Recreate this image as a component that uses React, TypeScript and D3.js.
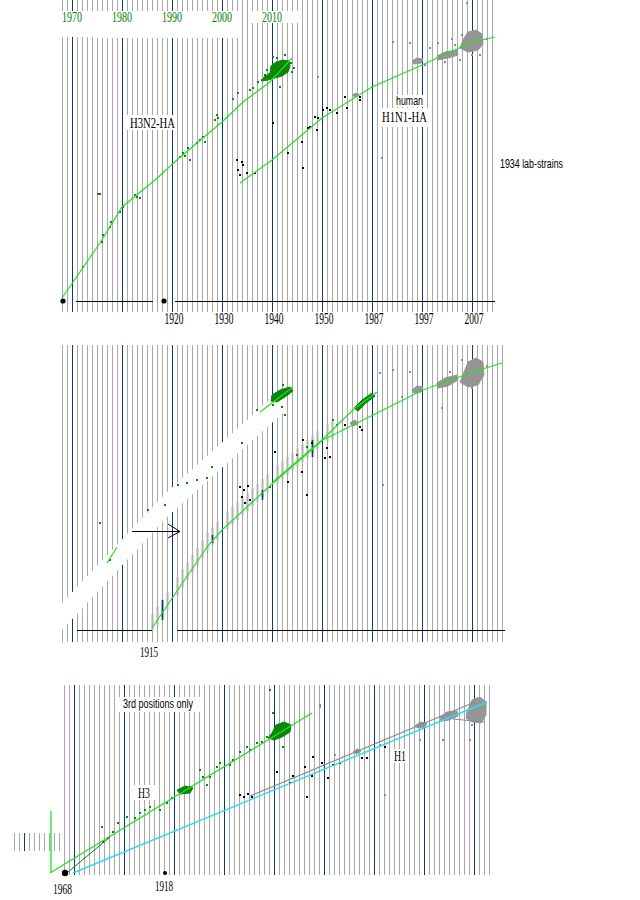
import React from "react";
import * as d3 from "d3";

type P = [number, number];

// ---------- axis labels ----------
const topDecades = [1970, 1980, 1990, 2000, 2010];
const bottomTickPos = [1990, 2000, 2010, 2020, 2030, 2040, 2050];
const bottomTickLabels = ["1920", "1930", "1940", "1950", "1987", "1997", "2007"];

// ---------- panel 1 (grid years, distance x1000) ----------
const p1H3Line: P[] = [[1968, 3], [1975.6, 58], [1980, 94], [1986.6, 121], [1991.2, 142], [2000, 179], [2004.2, 199], [2009.6, 219], [2014, 243]];
const p1H1Line: P[] = [[2003.6, 118], [2010, 141], [2020, 183], [2030, 214], [2040, 236], [2050, 259], [2054.6, 264]];
const p1H3Blob: P[] = [[2009.8, 235], [2010.8, 239], [2012.2, 241], [2013.4, 240], [2013.6, 235], [2013.2, 229], [2012, 225], [2010.6, 223], [2009.2, 221], [2008, 220], [2008.4, 224], [2009.6, 228]];
const p1GreenDots: P[] = [[2003.2, 208], [2002.2, 202], [2005.6, 211], [2006.2, 213], [1999, 186], [1998.6, 181], [1999.2, 183], [1996.2, 164], [1995.6, 161], [1995, 158], [1996.6, 159], [1993.2, 153], [1992.2, 148], [2008, 221], [2007.2, 219], [1975.2, 107], [1975.6, 107], [1982.6, 106], [1983, 104], [1977.8, 79], [1977.6, 74], [1976.2, 66], [1976, 59], [1979.6, 89], [1980.2, 94], [1983.6, 103], [1972.2, 34], [1991.6, 144], [1992.6, 145], [1993.6, 141], [2011, 243], [2012.6, 246], [2014, 229], [2011.6, 214], [2009, 231], [2013.8, 238], [2008.6, 226], [2014.4, 233], [2010.2, 244]];
const p1BlackDots: P[] = [[2003, 141], [2004, 139], [2004.2, 136], [2003.2, 131], [2005, 128], [2006.6, 128], [2003.6, 126], [2010.2, 178], [2013.2, 148], [2016, 159], [2016.2, 133], [2017.6, 174], [2018.6, 184], [2019.2, 183], [2020.2, 191], [2021, 193], [2021.6, 191], [2023, 188], [2024.6, 204], [2025, 193], [2027.6, 204], [2027.6, 201], [2019, 171], [2017.2, 173]];
const p1GreyDots: P[] = [[2019.2, 224], [2034.2, 259], [2037.6, 258], [2043.2, 258], [2049, 298], [2032, 143], [2041.6, 253], [2044.6, 239], [2040.6, 236], [2047.6, 241], [2051.6, 246], [2046.6, 256], [2048, 266], [2053, 262], [2050, 246], [2046, 262]];
const p1GreyBlobs: P[][] = [
  [[2048.2, 261], [2049.2, 269], [2050.8, 271], [2052, 267], [2052.2, 257], [2051.2, 251], [2049.2, 249], [2047.6, 253]],
  [[2043, 245], [2044.6, 249], [2047, 251], [2047.2, 246], [2045.2, 243], [2043.2, 241]],
  [[2038, 240], [2039, 243], [2040.2, 242], [2039.8, 238], [2038.4, 237]],
  [[2026, 206], [2026.8, 208], [2027.4, 206], [2026.6, 204]],
];
const p1Axis: P[] = [[1970.8, 1986.2], [1990.6, 2054.6]];
const p1BaseDots = [1968, 1988.2];

// ---------- panel 2 ----------
const p2MainLine: P[] = [[1986, 2], [1990.2, 33], [1997, 83], [2000, 100], [2010.2, 147], [2020.2, 190], [2030.2, 215], [2040.2, 240], [2050.2, 258], [2056, 267]];
const p2Branch: P[] = [[2010.2, 148], [2020.2, 191], [2026.6, 222], [2031, 238]];
const p2H3Frag: P[] = [[2007.6, 218], [2014.2, 243]];
const p2H3Frag2: P[] = [[1977, 67], [1979, 83]];
const p2WhiteBand: P[] = [[1968, 27], [1989, 138], [2011, 237], [2012.6, 230], [2012.2, 217], [1989, 113], [1968, 0]];
const p2GreenDots: P[] = [[1975.6, 107], [1977.6, 70], [1985.2, 120], [1991.2, 145], [1993, 147], [1995, 150], [1997, 152], [1998, 163], [2004, 187], [2007, 220], [2010.2, 225], [2012, 223], [2015, 175], [2017, 183], [2022.2, 210], [2023, 205], [2010.2, 148], [2009.6, 143], [2012.2, 245], [2012.6, 215], [1988.6, 125]];
const p2BlackDots: P[] = [[2003.6, 143], [2004.4, 140], [2005.2, 144], [2004, 133], [2005.6, 130], [2004.6, 127], [2010.6, 178], [2016.2, 190], [2017, 135], [2018, 187], [2021, 182], [2021.6, 173], [2020.6, 172], [2024.6, 205], [2027.6, 203], [2028, 200], [2013.2, 148], [2016, 158]];
const p2GreyDots: P[] = [[2031.6, 257], [2034.2, 260], [2037.6, 258], [2036, 233], [2032.2, 145], [2044, 222], [2045.6, 258], [2048, 270], [2053, 264], [2050, 242]];
const p2GreyBlobs: P[][] = [
  [[2048.2, 255], [2049.2, 268], [2050.8, 272], [2052.2, 268], [2052.4, 255], [2051.2, 245], [2049.2, 243], [2047.6, 248]],
  [[2043, 247], [2044.6, 252], [2047, 255], [2047.2, 250], [2045.2, 244], [2043.2, 242]],
  [[2038, 240], [2039, 244], [2040.2, 243], [2039.8, 238], [2038.4, 237]],
  [[2025.6, 207], [2026.6, 210], [2027.2, 206], [2026.2, 204]],
];
const p2GreenBlobs: P[][] = [
  [[2010, 235], [2011.6, 240], [2013.6, 243], [2014.2, 239], [2012.6, 233], [2011, 228], [2009.8, 229]],
  [[2026.4, 222], [2028, 230], [2030, 237], [2030.6, 234], [2028.8, 227], [2027.2, 219]],
];
const p2ShiftedDecades = [
  { year: 1988, v0: 10, v1: 30 },
  { year: 1998, v0: 87, v1: 95 },
  { year: 2008, v0: 130, v1: 140 },
  { year: 2018, v0: 173, v1: 190 },
];
const p2ShadeYears: [number, number] = [1986, 2022];
const p2Arrow: P[] = [[1982, 99], [1991.6, 99]];
const p2Axis: P[] = [[1971, 1986], [1991, 2056.6]];

// ---------- panel 3 ----------
const p3H3Line: P[] = [[1965.2, 0], [2017.6, 160]];
const p3CyanLine: P[] = [[1969.8, 0], [2052.6, 171]];
const p3GreyLine: P[] = [[2005.2, 77], [2050.2, 171]];
const p3GreyShort: P[] = [[2045.8, 154], [2052.2, 151]];
const p3DarkGreen: P[] = [[1968.8, 1], [1977.2, 36]];
const p3GreenVertical: P[] = [[1965.4, 0], [1965.4, 62]];
const p3GreenDots: P[] = [[1975.6, 46], [1977.8, 41], [1975.8, 31], [1980.6, 56], [1985.2, 66], [1987.2, 63], [1995.8, 96], [1996.6, 88], [1998.6, 106], [2001.8, 113], [2004.6, 126], [2006.6, 130], [2008.6, 136], [2009.2, 183], [2009.8, 160], [2011.8, 126], [1999.2, 110], [1995.2, 103], [1988.6, 70], [1983.2, 60], [1978.8, 50], [1982.2, 55], [1984.2, 63], [1989.6, 75], [1993.2, 86], [1997.2, 96], [2001.2, 108], [2003.2, 121], [2005.2, 123], [2007.6, 131], [1976.8, 35]];
const p3GreenBlobs: P[][] = [
  [[2009.6, 140], [2010.4, 148], [2012, 151], [2013.4, 148], [2013.2, 141], [2011.6, 136], [2010, 133], [2008.8, 135]],
  [[1990.6, 83], [1992.2, 87], [1993.8, 85], [1993.2, 80], [1991.2, 79]],
];
const p3BlackDots: P[] = [[2003.2, 78], [2004, 76], [2004.8, 79], [2005.6, 76], [2010.6, 101], [2013.8, 97], [2013.2, 90], [2016.2, 106], [2017.6, 97], [2017.8, 116], [2019.6, 110], [2020.8, 95], [2021.8, 108], [2023.2, 110], [2016.6, 76], [2027.6, 115], [2028.6, 115], [2032.2, 126]];
const p3GreyDots: P[] = [[2019.2, 168], [2019.2, 166], [2022.2, 118], [2031.2, 128], [2033.6, 118], [2039.2, 133], [2043.8, 133], [2049.2, 133], [2032.2, 78], [2049.6, 148]];
const p3GreyBlobs: P[][] = [
  [[2048.6, 161], [2049.6, 173], [2051.2, 176], [2052.4, 171], [2052.4, 158], [2051.4, 150], [2049.6, 151], [2048.4, 155]],
  [[2043.2, 156], [2044.6, 161], [2046.6, 162], [2046.8, 157], [2045, 153], [2043.4, 152]],
  [[2038.2, 147], [2039.2, 151], [2040.6, 150], [2040.2, 146], [2038.8, 145]],
  [[2025.8, 121], [2026.6, 124], [2027.4, 122], [2026.6, 119]],
];
const p3BaseDots = [{ year: 1968.2, r: 3.2 }, { year: 1988.2, r: 2 }];

// ---------- styles ----------
const GREY = "#a8a8a8";
const NAVY = "#0a3a78";
const LIME = "#22e022";
const DKGREEN = "#0a870a";
const DOTGREY = "#8c8c8c";
const CYAN = "#2adcf0";
const SERIF = "'Liberation Serif', 'Times New Roman', serif";
const SANS = "'Liberation Sans', Arial, sans-serif";

type Panel = { x0: number; x1: number; px0: number; px1: number; gridTop: number; gridBottom: number; base: number };
const P1: Panel = { x0: 1968, x1: 2054, px0: 62, px1: 492, gridTop: 0, gridBottom: 312, base: 301 };
const P2: Panel = { x0: 1968, x1: 2056, px0: 62, px1: 502, gridTop: 345, gridBottom: 642, base: 630 };
const P3: Panel = { x0: 1968, x1: 2053, px0: 64, px1: 489, gridTop: 685, gridBottom: 875, base: 873 };

function scales(p: Panel) {
  const x = d3.scaleLinear().domain([p.x0, p.x1]).range([p.px0, p.px1]);
  const y = d3.scaleLinear().domain([0, 300]).range([p.base, p.base - 300]);
  return { x, y };
}

function Grid({ p }: { p: Panel }) {
  const { x } = scales(p);
  const years = d3.range(p.x0, p.x1 + 1);
  return (
    <g shapeRendering="crispEdges">
      {years.filter((yr) => yr % 10 !== 0).map((yr) => (
        <line key={"g" + yr} x1={x(yr) + 0.5} x2={x(yr) + 0.5} y1={p.gridTop} y2={p.gridBottom} stroke={GREY} strokeWidth={1} />
      ))}
      {years.filter((yr) => yr % 10 === 0).map((yr) => (
        <line key={"n" + yr} x1={x(yr) + 0.5} x2={x(yr) + 0.5} y1={p.gridTop} y2={p.gridBottom} stroke={NAVY} strokeWidth={1.6} />
      ))}
    </g>
  );
}

function Marks({ p, lines, dots, blobs }: {
  p: Panel;
  lines?: { data: P[]; color: string; w?: number }[];
  dots?: { data: P[]; color: string }[];
  blobs?: { data: P[][]; color: string }[];
}) {
  const { x, y } = scales(p);
  const ln = d3.line<P>().x((d) => x(d[0])).y((d) => y(d[1]));
  const bl = d3.line<P>().x((d) => x(d[0])).y((d) => y(d[1])).curve(d3.curveLinearClosed);
  return (
    <g>
      {(blobs || []).map((b, i) =>
        b.data.map((poly, j) => <path key={`b${i}-${j}`} d={bl(poly) || ""} fill={b.color} stroke={b.color} strokeWidth={1} />)
      )}
      {(dots || []).map((s, i) =>
        s.data.map((d, j) => (
          <rect key={`d${i}-${j}`} x={Math.round(x(d[0])) - 1} y={Math.round(y(d[1])) - 1} width={2} height={2} fill={s.color} />
        ))
      )}
      {(lines || []).map((l, i) => (
        <path key={`l${i}`} d={ln(l.data) || ""} fill="none" stroke={l.color} strokeWidth={l.w ?? 1.2} />
      ))}
    </g>
  );
}

function Label({ x, y, text, size, width, family, fill = "#000" }: { x: number; y: number; text: string; size: number; width: number; family: string; fill?: string }) {
  return (
    <text x={x} y={y} fontSize={size} fontFamily={family} fill={fill} textLength={width} lengthAdjust="spacingAndGlyphs">
      {text}
    </text>
  );
}

export default function App() {
  const s1 = scales(P1);
  const s2 = scales(P2);
  const s3 = scales(P3);
  const mainInterp = (yr: number) => {
    const d = p2MainLine;
    for (let i = 0; i < d.length - 1; i++) {
      if (yr >= d[i][0] && yr <= d[i + 1][0]) {
        const t = (yr - d[i][0]) / (d[i + 1][0] - d[i][0]);
        return d[i][1] + t * (d[i + 1][1] - d[i][1]);
      }
    }
    return d[d.length - 1][1];
  };
  const shadeYears = d3.range(p2ShadeYears[0], p2ShadeYears[1] + 1).filter((yr) => yr % 10 !== 0);
  const bandPath = d3.line<P>().x((d) => s2.x(d[0])).y((d) => s2.y(d[1])).curve(d3.curveLinearClosed)(p2WhiteBand) || "";
  const arrowEnd = [s2.x(p2Arrow[1][0]), s2.y(p2Arrow[1][1])];
  const greyBlobColor = "#959595";

  return (
    <svg width={640} height={900} style={{ position: "absolute", left: 0, top: 0, background: "#fff" }}>
      <rect width={640} height={900} fill="#fff" />

      {/* ================= PANEL 1 ================= */}
      <Grid p={P1} />
      <rect x={62} y={11} width={31} height={26} fill="#fff" />
      <rect x={97} y={11} width={145} height={27} fill="#fff" />
      <rect x={250} y={11} width={48} height={12} fill="#fff" />
      {topDecades.map((yr) => (
        <text key={yr} x={s1.x(yr)} y={22} fontSize={14} fontFamily={SERIF} fill="#008000" textAnchor="middle" textLength={20} lengthAdjust="spacingAndGlyphs">
          {yr}
        </text>
      ))}
      <rect x={125} y={115} width={52} height={15} fill="#fff" />
      <Label x={130} y={128} text="H3N2-HA" size={14} width={45} family={SERIF} />
      <rect x={393} y={95} width={33} height={12} fill="#fff" />
      <Label x={396} y={105} text="human" size={12} width={27} family={SANS} />
      <rect x={380} y={108} width={50} height={19} fill="#fff" />
      <Label x={382} y={122} text="H1N1-HA" size={14} width={45} family={SERIF} />
      <Label x={500} y={168} text="1934 lab-strains" size={12} width={63} family={SANS} />

      {p1Axis.map((seg, i) => (
        <line key={i} x1={s1.x(seg[0])} x2={s1.x(seg[1])} y1={s1.y(0) + 0.5} y2={s1.y(0) + 0.5} stroke="#000" strokeWidth={1} />
      ))}
      {p1BaseDots.map((yr, i) => (
        <circle key={i} cx={s1.x(yr) + 1} cy={s1.y(0)} r={2.6} fill="#000" />
      ))}
      <Marks
        p={P1}
        blobs={[{ data: p1GreyBlobs, color: greyBlobColor }, { data: [p1H3Blob], color: DKGREEN }]}
        dots={[{ data: p1GreenDots, color: DKGREEN }, { data: p1BlackDots, color: "#000" }, { data: p1GreyDots, color: DOTGREY }]}
        lines={[{ data: p1H3Line, color: LIME }, { data: p1H1Line, color: LIME }]}
      />
      {bottomTickPos.map((yr, i) => (
        <text key={yr} x={s1.x(yr) + 2} y={324} fontSize={16} fontFamily={SERIF} textAnchor="middle" textLength={19} lengthAdjust="spacingAndGlyphs">
          {bottomTickLabels[i]}
        </text>
      ))}

      {/* ================= PANEL 2 ================= */}
      <Grid p={P2} />
      {shadeYears.map((yr) => {
        const v = mainInterp(yr);
        return <line key={yr} x1={s2.x(yr) + 0.5} x2={s2.x(yr) + 0.5} y1={s2.y(v + 14)} y2={s2.y(Math.max(0, v - 4))} stroke="#b0b0b0" strokeWidth={2} />;
      })}
      {p2ShiftedDecades.map((d) => (
        <line key={d.year} x1={s2.x(d.year) + 0.5} x2={s2.x(d.year) + 0.5} y1={s2.y(d.v1)} y2={s2.y(d.v0)} stroke={NAVY} strokeWidth={1.6} />
      ))}
      <path d={bandPath} fill="#fff" />
      {p2Axis.map((seg, i) => (
        <line key={i} x1={s2.x(seg[0])} x2={s2.x(seg[1])} y1={s2.y(0) + 0.5} y2={s2.y(0) + 0.5} stroke="#000" strokeWidth={1} />
      ))}
      <Marks
        p={P2}
        blobs={[{ data: p2GreyBlobs, color: greyBlobColor }, { data: p2GreenBlobs, color: DKGREEN }]}
        dots={[{ data: p2GreenDots, color: DKGREEN }, { data: p2BlackDots, color: "#000" }, { data: p2GreyDots, color: DOTGREY }]}
        lines={[
          { data: p2MainLine, color: LIME },
          { data: p2Branch, color: LIME },
          { data: p2H3Frag, color: LIME },
          { data: p2H3Frag2, color: LIME },
        ]}
      />
      <line x1={s2.x(p2Arrow[0][0])} x2={arrowEnd[0]} y1={s2.y(p2Arrow[0][1]) + 0.5} y2={arrowEnd[1] + 0.5} stroke="#000" strokeWidth={1} />
      <path d={`M${arrowEnd[0] - 12},${arrowEnd[1] - 7} L${arrowEnd[0]},${arrowEnd[1] + 0.5} L${arrowEnd[0] - 12},${arrowEnd[1] + 7}`} fill="none" stroke="#000" strokeWidth={1} />
      <Label x={140} y={657} text="1915" size={14} width={18} family={SERIF} />

      {/* ================= PANEL 3 ================= */}
      <Grid p={P3} />
      <g shapeRendering="crispEdges">
        {d3.range(0, 10).map((i) => (
          <line key={i} x1={14.5 + i * 5} x2={14.5 + i * 5} y1={833} y2={851} stroke={i === 2 ? NAVY : GREY} strokeWidth={1} />
        ))}
      </g>
      <rect x={118} y={697} width={82} height={15} fill="#fff" />
      <Label x={123} y={708} text="3rd positions only" size={12} width={70} family={SANS} />
      <Marks
        p={P3}
        blobs={[{ data: p3GreyBlobs, color: greyBlobColor }, { data: p3GreenBlobs, color: DKGREEN }]}
        dots={[{ data: p3GreenDots, color: DKGREEN }, { data: p3BlackDots, color: "#000" }, { data: p3GreyDots, color: DOTGREY }]}
        lines={[
          { data: p3CyanLine, color: CYAN, w: 1.4 },
          { data: p3GreyLine, color: "#8a8a8a", w: 1.2 },
          { data: p3GreyShort, color: "#8a8a8a", w: 1 },
          { data: p3H3Line, color: LIME, w: 1.3 },
          { data: p3DarkGreen, color: "#1a7a1a", w: 1 },
          { data: p3GreenVertical, color: LIME, w: 1.3 },
        ]}
      />
      {p3BaseDots.map((d, i) => (
        <circle key={i} cx={s3.x(d.year)} cy={s3.y(0)} r={d.r} fill="#000" />
      ))}
      <rect x={133} y={785} width={24} height={15} fill="#fff" />
      <Label x={138} y={798} text="H3" size={14} width={12} family={SERIF} />
      <rect x={391} y={749} width={18} height={14} fill="#fff" />
      <Label x={394} y={761} text="H1" size={14} width={12} family={SERIF} />
      <Label x={53} y={894} text="1968" size={14} width={19} family={SERIF} />
      <Label x={155} y={891} text="1918" size={14} width={18} family={SERIF} />
    </svg>
  );
}
